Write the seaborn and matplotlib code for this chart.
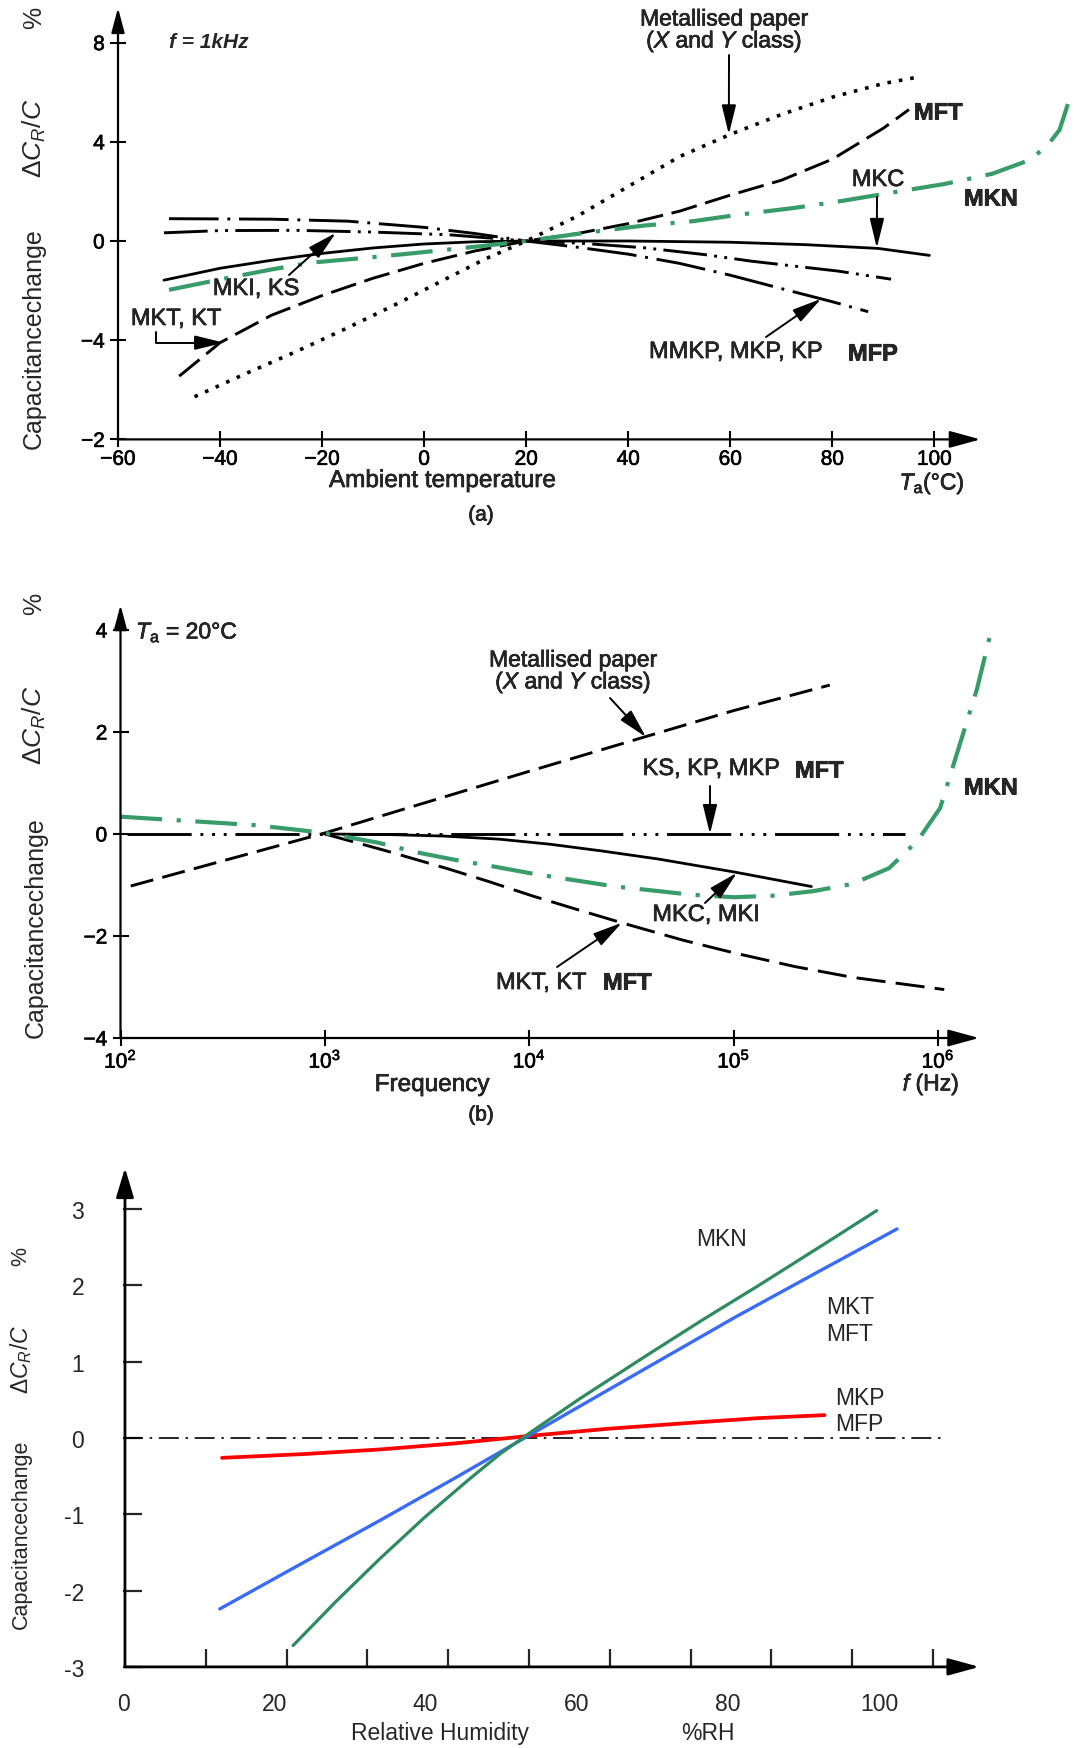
import numpy as np
import matplotlib
matplotlib.use('Agg')
import matplotlib.pyplot as plt
import matplotlib.patheffects as pe
import seaborn as sns

sns.set_style('white')
plt.rcParams['font.family'] = ['Liberation Sans', 'DejaVu Sans']
plt.rcParams['mathtext.fontset'] = 'custom'
plt.rcParams['mathtext.rm'] = 'Liberation Sans'
plt.rcParams['mathtext.it'] = 'Liberation Sans:italic'
plt.rcParams['mathtext.bf'] = 'Liberation Sans:bold'

# ---------------- data: panel (a) temperature ----------------
paper_a_T = [-45, -35, -25, -15, -5, 5, 12, 20, 30, 40, 50, 60, 70, 80, 90, 96.5]
paper_a_dc = [-6.28, -5.35, -4.45, -3.5, -2.5, -1.45, -0.72, 0.0, 1.0, 2.2, 3.4, 4.3, 5.1, 5.8, 6.35, 6.6]
mkt_a_T = [-48, -40, -30, -20, -10, 0, 10, 20, 30, 40, 50, 60, 70, 80, 90, 95]
mkt_a_dc = [-5.45, -4.1, -3.0, -2.2, -1.5, -0.9, -0.4, 0.0, 0.3, 0.7, 1.2, 1.85, 2.45, 3.3, 4.55, 5.3]
mkc_a_T = [-51, -40, -30, -20, -10, 0, 10, 20, 40, 60, 75, 89, 99]
mkc_a_dc = [-1.58, -1.1, -0.78, -0.5, -0.28, -0.12, -0.03, 0.0, 0.0, -0.05, -0.15, -0.3, -0.58]
mmkp_a_T = [-50, -30, -15, 0, 10, 20, 30, 40, 50, 60, 70, 80, 87]
mmkp_a_dc = [0.9, 0.88, 0.8, 0.55, 0.3, 0.0, -0.25, -0.53, -0.9, -1.38, -1.92, -2.45, -2.85]
mki_a_T = [-51, -40, -25, -10, 5, 20, 30, 43, 55, 64, 72, 81, 91.5]
mki_a_dc = [0.33, 0.42, 0.43, 0.36, 0.25, 0.0, -0.08, -0.27, -0.55, -0.81, -1.0, -1.21, -1.54]
mkn_a_T = [-50, -40, -30, -22, -10, -3, 11, 20, 31.6, 43, 52.7, 62, 72.4, 82, 92.2, 102,
           111.3, 118.7, 122.2, 124.5, 126.6]
mkn_a_dc = [-1.97, -1.55, -1.15, -0.87, -0.65, -0.51, -0.21, 0.0, 0.33, 0.62, 0.8, 1.07, 1.33,
            1.62, 1.97, 2.3, 2.71, 3.27, 3.87, 4.48, 5.81]
a_xticks = [-60, -40, -20, 0, 20, 40, 60, 80, 100]
a_xlabels = ['\u221260', '\u221240', '\u221220', '0', '20', '40', '60', '80', '100']
a_yticks = [-8, -4, 0, 4, 8]
a_ylabels = ['\u22122', '\u22124', '0', '4', '8']

# ---------------- data: panel (b) frequency (log10 f) ----------------
paper_b_lf = [2.05, 3.0, 4.0, 4.57, 5.0, 5.47]
paper_b_dc = [-1.02, 0.02, 1.23, 1.91, 2.42, 2.92]
mkt_b_lf = [3.0, 3.3, 3.6, 3.8, 4.02, 4.25, 4.46, 4.75, 5.0, 5.3, 5.58, 6.03]
mkt_b_dc = [0.0, -0.33, -0.68, -0.93, -1.22, -1.5, -1.75, -2.08, -2.33, -2.6, -2.81, -3.05]
ks_b_lf = [2.03, 5.84]
ks_b_dc = [0.0, 0.0]
mkc_b_lf = [3.0, 3.3, 3.58, 3.85, 4.1, 4.35, 4.63, 5.01, 5.38]
mkc_b_dc = [0.0, -0.01, -0.04, -0.1, -0.2, -0.33, -0.49, -0.75, -1.03]
mkn_b_lf = [2.0, 2.67, 3.0, 3.26, 3.45, 3.64, 3.83, 4.02, 4.42, 4.61, 4.79, 5.0, 5.19, 5.39,
            5.58, 5.76, 5.9, 6.01, 6.08, 6.19, 6.26]
mkn_b_dc = [0.34, 0.17, 0.02, -0.17, -0.36, -0.51, -0.64, -0.78, -1.03, -1.11, -1.19, -1.24,
            -1.21, -1.12, -0.98, -0.67, -0.13, 0.51, 1.42, 2.84, 3.99]
b_xticks = [1e2, 1e3, 1e4, 1e5, 1e6]
b_xlabels = ['$10^{2}$', '$10^{3}$', '$10^{4}$', '$10^{5}$', '$10^{6}$']
b_yticks = [-4, -2, 0, 2, 4]
b_ylabels = ['\u22124', '\u22122', '0', '2', '4']

# ---------------- data: panel (c) humidity ----------------
mkp_c_rh = [13.1, 24, 34, 44, 54, 64, 75.2, 84, 92.8]
mkp_c_dc = [-0.26, -0.21, -0.15, -0.07, 0.03, 0.12, 0.2, 0.26, 0.3]
mkt_c_rh = [12.8, 23, 34, 44, 54, 67, 81.1, 92, 102.4]
mkt_c_dc = [-2.24, -1.68, -1.08, -0.52, 0.05, 0.79, 1.59, 2.18, 2.74]
mkn_c_rh = [22.5, 28.1, 34.0, 39.9, 45.8, 50.0, 54.0, 60.5, 69.4, 76.7, 84.1, 92.9, 99.7]
mkn_c_dc = [-2.72, -2.15, -1.58, -1.04, -0.54, -0.2, 0.08, 0.52, 1.09, 1.55, 2.0, 2.55, 2.98]
c_xticks = [0, 20, 40, 60, 80, 100]
c_yticks = [-3, -2, -1, 0, 1, 2, 3]
c_ylabels = ['-3', '-2', '-1', '0', '1', '2', '3']

GREEN = '#389C69'
W, H, DPI = 1085, 1749, 100
fig = plt.figure(figsize=(W / DPI, H / DPI), dpi=DPI)
fig.patch.set_facecolor('white')
HEAVY = [pe.withStroke(linewidth=0.45, foreground='k')]
BOLDER = [pe.withStroke(linewidth=0.5, foreground='k')]


def axes_px(x0, x1, ytop, ybot):
    ax = fig.add_axes([x0 / W, 1 - ybot / H, (x1 - x0) / W, (ybot - ytop) / H])
    ax.set_facecolor('none')
    for s in ax.spines.values():
        s.set_visible(False)
    return ax


def ptext(x, y, s, ha='center', va='center', heavy=False, **kw):
    t = fig.text(x / W, 1 - y / H, s, ha=ha, va=va, **kw)
    if heavy:
        t.set_path_effects(HEAVY)
    if kw.get('fontweight') == 'bold' and kw.get('fontstyle') != 'italic':
        t.set_path_effects(BOLDER)


def parrow(ax, tip, tail, hl=0.9, hw=0.22, ms=20, conn='arc3', lw=1.4):
    ax.annotate('', xy=tip, xycoords='data', xytext=(tail[0], H - tail[1]),
                textcoords='figure pixels',
                arrowprops=dict(arrowstyle=f'-|>,head_length={hl},head_width={hw}',
                                color='k', lw=lw, shrinkA=0, shrinkB=0,
                                mutation_scale=ms, connectionstyle=conn),
                annotation_clip=False)


def axis_arrows(ax, x0, y0, xend, yend, hlx=0.95, hwx=0.26, hly=0.75, hwy=0.2, lw=1.6):
    for xy, xyt, hl, hw in (((xend, y0), (x0, y0), hlx, hwx), ((x0, yend), (x0, y0), hly, hwy)):
        ax.annotate('', xy=xy, xytext=xyt, xycoords='data',
                    arrowprops=dict(arrowstyle=f'-|>,head_length={hl},head_width={hw}',
                                    color='k', lw=lw, shrinkA=0, shrinkB=0, mutation_scale=20),
                    annotation_clip=False)


def curve(ax, x, y, color='k', lw=2.0, ls='-', cap='butt'):
    sns.lineplot(x=np.asarray(x, float), y=np.asarray(y, float), ax=ax, color=color,
                 linewidth=lw, linestyle=ls, dash_capstyle=cap, clip_on=False)


def heavy_ticks(ax):
    for lab in ax.get_xticklabels() + ax.get_yticklabels():
        lab.set_path_effects(HEAVY)


PAPER_LABEL = 'Metallised paper\n($\\mathit{X}$ and $\\mathit{Y}$ class)'

# ======================= panel (a) =======================
axA = axes_px(118, 118 + 5.103 * 189, 242 - 24.8 * 9.5, 242 + 24.8 * 8)
axA.set_xlim(-60, 129)
axA.set_ylim(-8, 9.5)
curve(axA, paper_a_T, paper_a_dc, lw=2.6, ls=(0, (1, 2.2)))
curve(axA, mkt_a_T, mkt_a_dc, lw=2.1, ls=(0, (9, 3)))
curve(axA, mkc_a_T, mkc_a_dc, lw=2.0, ls='-')
curve(axA, mmkp_a_T, mmkp_a_dc, lw=2.1, ls=(0, (17, 3, 1, 3)))
curve(axA, mki_a_T, mki_a_dc, lw=2.1, ls=(0, (15, 2.5, 1, 2.5, 1, 2.5)))
curve(axA, mkn_a_T, mkn_a_dc, color=GREEN, lw=3.0, ls=(0, (10, 3.5, 1, 3.5)))
axis_arrows(axA, -60, -8, 109, 9.4)
axA.set_xticks(a_xticks)
axA.set_xticklabels(a_xlabels)
axA.set_yticks(a_yticks)
axA.set_yticklabels(a_ylabels)
axA.tick_params(axis='both', direction='inout', length=11, width=1.5, labelsize=15,
                bottom=True, left=True, colors='k')
axA.tick_params(axis='x', pad=2)
axA.tick_params(axis='y', pad=4)
axA.set_xlabel('')
axA.set_ylabel('')
heavy_ticks(axA)

parrow(axA, (-17.3, 0.33), (289, 276))
parrow(axA, (-39.2, -4.1), (156, 333), conn='angle,angleA=90,angleB=0,rad=0')
parrow(axA, (59.7, 4.3), (729, 56))
parrow(axA, (88.7, -0.28), (877, 198))
parrow(axA, (77.8, -2.33), (766, 338))

ptext(34, 18, '%', rotation=90, fontsize=18)
ptext(34, 138, r'$\mathit{\Delta C_R/C}$', rotation=90, fontsize=19)
ptext(34, 339, 'Capacitancechange', rotation=90, fontsize=18)
ptext(169, 43, 'f = 1kHz', ha='left', fontsize=15, fontweight='bold', fontstyle='italic')
ptext(256, 290, 'MKI, KS', fontsize=17, heavy=True)
ptext(176, 320, 'MKT, KT', fontsize=17, heavy=True)
ptext(724, 32, PAPER_LABEL, fontsize=16.5, heavy=True, linespacing=0.85)
ptext(914, 114, 'MFT', ha='left', fontsize=17, fontweight='bold')
ptext(878, 181, 'MKC', fontsize=17, heavy=True)
ptext(964, 200, 'MKN', ha='left', fontsize=17, fontweight='bold')
ptext(649, 353, 'MMKP, MKP, KP', ha='left', fontsize=17, heavy=True)
ptext(848, 355, 'MFP', ha='left', fontsize=17, fontweight='bold')
ptext(442, 482, 'Ambient temperature', fontsize=17.5, heavy=True)
ptext(932, 484, r'$\mathit{T}_{\mathrm{a}}$(°C)', fontsize=16.5, heavy=True)
ptext(481, 516, '(a)', fontsize=15, heavy=True)

# ======================= panel (b) =======================
axB = axes_px(120.5, 120.5 + 204.4 * 4.7, 835 - 51 * 4.6, 835 + 51 * 4)
axB.set_xscale('log')
axB.set_xlim(1e2, 10 ** 6.7)
axB.set_ylim(-4, 4.6)
curve(axB, 10 ** np.array(paper_b_lf), paper_b_dc, lw=2.1, ls=(0, (8, 3.2)))
curve(axB, 10 ** np.array(mkt_b_lf), mkt_b_dc, lw=2.1, ls=(0, (10, 3.5)))
curve(axB, 10 ** np.array(ks_b_lf), ks_b_dc, lw=2.1, ls=(0, (22, 3, 1, 3, 1, 3, 1, 3)))
curve(axB, 10 ** np.array(mkc_b_lf), mkc_b_dc, lw=2.0, ls='-')
curve(axB, 10 ** np.array(mkn_b_lf), mkn_b_dc, color=GREEN, lw=3.0, ls=(0, (10, 3.5, 1, 3.5)))
axis_arrows(axB, 1e2, -4, 10 ** 6.2, 4.49)
axB.set_xticks(b_xticks)
axB.set_xticklabels(b_xlabels)
axB.xaxis.set_minor_locator(matplotlib.ticker.NullLocator())
axB.set_yticks(b_yticks)
axB.set_yticklabels(b_ylabels)
axB.tick_params(axis='both', direction='inout', length=11, width=1.5, labelsize=15,
                bottom=True, left=True, colors='k')
axB.tick_params(axis='x', pad=3)
axB.tick_params(axis='y', pad=4)
axB.set_xlabel('')
axB.set_ylabel('')
heavy_ticks(axB)

parrow(axB, (10 ** 4.571, 1.9), (610, 699))
parrow(axB, (10 ** 4.884, 0.0), (710, 787))
parrow(axB, (10 ** 5.016, -0.76), (705, 904))
parrow(axB, (10 ** 4.453, -1.74), (557, 968))

ptext(34, 604, '%', rotation=90, fontsize=18)
ptext(34, 725, r'$\mathit{\Delta C_R/C}$', rotation=90, fontsize=19)
ptext(36, 928, 'Capacitancechange', rotation=90, fontsize=18)
ptext(136, 633, r'$\mathit{T}_{\mathrm{a}}$ = 20°C', ha='left', fontsize=16.5, heavy=True)
ptext(573, 673, PAPER_LABEL, fontsize=16.5, heavy=True, linespacing=0.85)
ptext(711, 770, 'KS, KP, MKP', fontsize=17, heavy=True)
ptext(795, 772, 'MFT', ha='left', fontsize=17, fontweight='bold')
ptext(706, 916, 'MKC, MKI', fontsize=17, heavy=True)
ptext(496, 984, 'MKT, KT', ha='left', fontsize=17, heavy=True)
ptext(603, 984, 'MFT', ha='left', fontsize=17, fontweight='bold')
ptext(964, 789, 'MKN', ha='left', fontsize=17, fontweight='bold')
ptext(432, 1086, 'Frequency', fontsize=17.5, heavy=True)
ptext(931, 1085, r'$\mathit{f}$ (Hz)', fontsize=16.5, heavy=True)
ptext(481, 1116, '(b)', fontsize=15, heavy=True)

# ======================= panel (c) =======================
axC = axes_px(123, 121 + 7.575 * 126.9, 1439 - 76.3 * 3.6, 1439 + 76.3 * 3)
axC.set_xlim(0.26, 126.9)
axC.set_ylim(-3, 3.6)
axC.axhline(0, xmin=0, xmax=(108.3 - 0.26) / (126.9 - 0.26), color='k', lw=1.2,
            ls=(0, (12, 4, 1.5, 4)))
curve(axC, mkp_c_rh, mkp_c_dc, color='#FF0000', lw=2.7)
curve(axC, mkt_c_rh, mkt_c_dc, color='#3A6BF5', lw=2.4)
curve(axC, mkn_c_rh, mkn_c_dc, color='#2E8B5E', lw=2.3)
axis_arrows(axC, 0.26, -3, 113.3, 3.54, hlx=0.95, hwx=0.26, hly=0.9, hwy=0.27, lw=2.0)
axC.set_xticks(c_xticks)
axC.set_xticklabels([str(v) for v in c_xticks])
axC.set_xticks(0.26 + 10.69 * np.arange(1, 11), minor=True)
axC.set_yticks(c_yticks)
axC.set_yticklabels(c_ylabels)
axC.tick_params(axis='x', which='major', length=0, pad=18, labelsize=16.5, bottom=True)
axC.tick_params(axis='x', which='minor', direction='in', length=13, width=1.6, bottom=True)
axC.tick_params(axis='y', which='major', direction='in', length=14, width=1.6, pad=28,
                labelsize=16.5, left=True)
axC.set_xlabel('')
axC.set_ylabel('')

ptext(21, 1257, '%', rotation=90, fontsize=15.5)
ptext(21, 1359, r'$\mathit{\Delta C_R/C}$', rotation=90, fontsize=16.5)
ptext(21, 1534, 'Capacitancechange', rotation=90, fontsize=15.5)
ptext(722, 1239, 'MKN', fontsize=16.5)
ptext(826, 1308, 'MKT', ha='left', fontsize=16.5)
ptext(826, 1335, 'MFT', ha='left', fontsize=16.5)
ptext(835, 1399, 'MKP', ha='left', fontsize=16.5)
ptext(835, 1425, 'MFP', ha='left', fontsize=16.5)
ptext(440, 1734, 'Relative Humidity', fontsize=16.5)
ptext(708, 1734, '%RH', fontsize=16.5)

fig.savefig('out.png', dpi=DPI, facecolor='white')
